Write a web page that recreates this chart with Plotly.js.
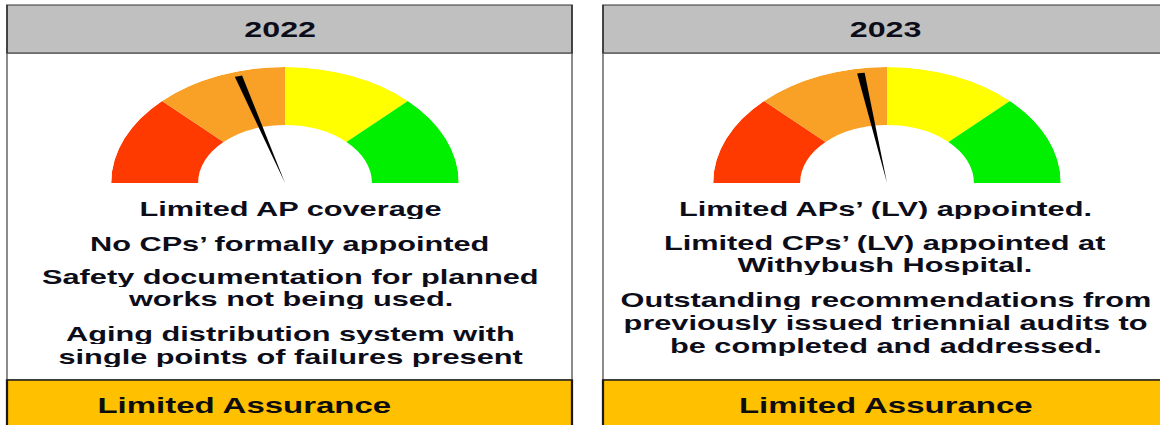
<!DOCTYPE html>
<html>
<head>
<meta charset="utf-8">
<script src="https://cdn.plot.ly/plotly-3.0.1.min.js"></script>
<style>
  html, body { margin:0; padding:0; background:#ffffff; overflow:hidden; }
  #wrap { width:1160px; height:425px; overflow:hidden; position:relative; }
  #chart { width:774px; height:425px; transform:scaleX(1.498708); transform-origin:0 0; }
</style>
</head>
<body>
<div id="wrap"><div id="chart"></div></div>
<script>
// ---------------- data ----------------
const years = ['2022', '2023'];
const needleValues = [41, 45];               // gauge reading, 0..100
const bandStarts = [0, 25, 50, 75];          // gauge bands, 0..100
const bandEnds = [25, 50, 75, 100];
const bandColors = ['#ff3a00', '#f9a126', '#ffff00', '#00f000'];
const notes2022 = [
  'Limited AP coverage',
  'No CPs’ formally appointed',
  'Safety documentation for planned',
  'works not being used.',
  'Aging distribution system with',
  'single points of failures present'
];
const notes2023 = [
  'Limited APs’ (LV) appointed.',
  'Limited CPs’ (LV) appointed at',
  'Withybush Hospital.',
  'Outstanding recommendations from',
  'previously issued triennial audits to',
  'be completed and addressed.'
];
const ratings = ['Limited Assurance', 'Limited Assurance'];

// ---------------- layout helpers (real pixel -> paper) ----------------
const W = 1160, H = 425;
const px = x => x / W;
const py = y => 1 - y / H;
const FONT = 'Liberation Sans, Arial, sans-serif';
const DEG = 180 / 100;

const panels = [
  {x0: 7, x1: 572, gaugeCx: 285, titleX: 280, textX: 290, ratingX: 244,
   lineY: [209, 244, 277, 299, 334, 356.5], notes: notes2022, polar: 'polar'},
  {x0: 603, x1: 1166, gaugeCx: 887, titleX: 886, textX: 885, ratingX: 885,
   lineY: [209, 243, 265, 300, 323, 346], notes: notes2023, polar: 'polar2'}
];
const R = 116, gaugeBase = 183;

const traces = [];
const shapes = [];
const annotations = [];
const layout = {
  width: 774, height: 425,
  margin: {l:0, r:0, t:0, b:0},
  paper_bgcolor: '#ffffff',
  showlegend: false,
  shapes: shapes,
  annotations: annotations
};

panels.forEach((p, i) => {
  // panel frame
  shapes.push({type:'rect', xref:'paper', yref:'paper', layer:'below',
    x0:px(p.x0), x1:px(p.x1), y0:py(53), y1:py(380),
    fillcolor:'#ffffff', line:{color:'#8a8a8a', width:1.3}});
  shapes.push({type:'rect', xref:'paper', yref:'paper', layer:'below',
    x0:px(p.x0), x1:px(p.x1), y0:py(53), y1:py(5),
    fillcolor:'#c0c0c0', line:{color:'#333333', width:1.2}});
  shapes.push({type:'rect', xref:'paper', yref:'paper', layer:'below',
    x0:px(p.x0), x1:px(p.x1), y0:py(432), y1:py(380),
    fillcolor:'#ffc000', line:{color:'#1a1a1a', width:1.5}});

  // polar subplot for the gauge
  layout[p.polar] = {
    domain: {x:[px(p.gaugeCx - 1.5 * R), px(p.gaugeCx + 1.5 * R)], y:[py(gaugeBase), py(gaugeBase - R)]},
    sector: [0, 180],
    hole: 0,
    bgcolor: 'rgba(0,0,0,0)',
    barmode: 'overlay',
    bargap: 0,
    radialaxis: {visible:false, range:[0, 1], showgrid:false, showline:false, showticklabels:false, ticks:''},
    angularaxis: {visible:false, rotation:180, direction:'clockwise', showgrid:false, showline:false, showticklabels:false, ticks:''}
  };

  traces.push({
    type:'barpolar', subplot:p.polar,
    theta: bandStarts.map((s, k) => (s + bandEnds[k]) / 2 * DEG),
    width: bandStarts.map((s, k) => (bandEnds[k] - s) * DEG),
    r: bandStarts.map(() => 0.5),
    base: bandStarts.map(() => 0.5),
    marker: {color: bandColors, line:{width:0}},
    hoverinfo:'skip'
  });
  traces.push({
    type:'barpolar', subplot:p.polar,
    theta: [needleValues[i] * DEG],
    width: [2.6],
    r: [0.96], base: [0],
    marker: {color:'#000000', line:{width:0}},
    hoverinfo:'skip'
  });

  // header year
  annotations.push({xref:'paper', yref:'paper', x:px(p.titleX), y:py(30), xanchor:'center', yanchor:'middle',
    text:'<b>' + years[i] + '</b>', showarrow:false, font:{family:FONT, size:21.5, color:'#0d0d1a'}});
  // notes
  p.notes.forEach((t, k) => {
    annotations.push({xref:'paper', yref:'paper', x:px(p.textX), y:py(p.lineY[k]), xanchor:'center', yanchor:'middle',
      height: 20,
      text:'<b>' + t + '</b>', showarrow:false, font:{family:FONT, size:20.5, color:'#0d0d1a'}});
  });
  // rating
  annotations.push({xref:'paper', yref:'paper', x:px(p.ratingX), y:py(405), xanchor:'center', yanchor:'middle',
    text:'<b>' + ratings[i] + '</b>', showarrow:false, font:{family:FONT, size:22, color:'#0d0d0d'}});
});

Plotly.newPlot('chart', traces, layout, {staticPlot:true, displayModeBar:false, responsive:false});
</script>
</body>
</html>
